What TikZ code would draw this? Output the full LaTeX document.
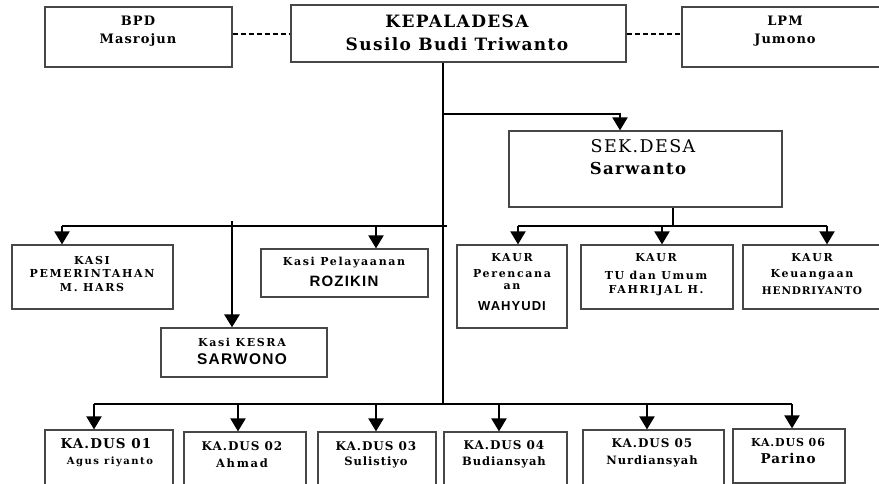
\documentclass[tikz,border=0pt]{standalone}
\usepackage{fontspec}
\setmainfont{DejaVu Serif}[LetterSpace=8]
\newfontfamily\wide{DejaVu Serif}[LetterSpace=15]
\newfontfamily\sansb{Liberation Sans}[LetterSpace=8]
\usetikzlibrary{arrows.meta}
\tikzset{
  bx/.style={draw=black!72,line width=1.2pt,inner sep=0pt,fill=white},
  txt/.style={inner sep=0pt,align=center,font=\bfseries},
  ln/.style={line width=2pt,black},
  arr/.style={ln,-{Triangle[width=15pt,length=13pt]}},
  dsh/.style={line width=2pt,dash pattern=on 5pt off 3pt},
}
\newcommand\bx[5]{\node[bx,minimum width={(#4-#2)*1pt},minimum height={(#5-#3)*1pt}] (#1) at ({(#2+#4)/2},{(#3+#5)/2}) {};}
\newcommand\tx[5][]{\node[txt,#1] (#2) at (#3,#4) {#5};}
\newcommand\fs[1]{\fontsize{#1}{#1}\selectfont}
\begin{document}
\begin{tikzpicture}[x=1pt,y=-1pt]
\useasboundingbox (0,0) rectangle (879,484);
\fill[white] (0,0) rectangle (879,484);
\clip (0,0) rectangle (879,484);
% top row
\bx{bpd}{45}{7}{232}{67}
\bx{kep}{291}{5}{626}{62}
\bx{lpm}{682}{7}{885}{67}
\tx[font=\bfseries\fs{13}]{tbpd1}{138}{21}{BPD}
\tx[font=\bfseries\fs{13}]{tbpd2}{138}{40}{Masrojun}
\tx[font=\bfseries\fs{17}]{tkep1}{457}{21}{KEPALADESA}
\tx[font=\bfseries\fs{17}]{tkep2}{457}{44}{Susilo Budi Triwanto}
\tx[font=\bfseries\fs{13}]{tlpm1}{785}{21}{LPM}
\tx[font=\bfseries\fs{13}]{tlpm2}{785}{40}{Jumono}
\draw[dsh] (bpd.east |- 0,34) -- (kep.west |- 0,34);
\draw[dsh] (kep.east |- 0,34) -- (lpm.west |- 0,34);
% sekdes
\bx{sek}{509}{131}{782}{207}
\tx[font=\fs{17.5}]{tsek1}{643}{146}{SEK.DESA}
\tx[font=\bfseries\fs{16.5}]{tsek2}{638}{168}{Sarwanto}
% kaur
\bx{kaur1}{457}{245}{567}{328}
\bx{kaur2}{581}{245}{733}{309}
\bx{kaur3}{743}{245}{885}{309}
\tx[font=\wide\bfseries\fs{11}]{tk11}{512}{258}{KAUR}
\tx[font=\wide\bfseries\fs{11}]{tk12}{512}{274}{Perencana}
\tx[font=\wide\bfseries\fs{11}]{tk13}{512}{287}{an}
\tx[font=\sansb\bfseries\fs{13}]{tk14}{512}{306}{WAHYUDI}
\tx[font=\wide\bfseries\fs{11}]{tk21}{656}{258}{KAUR}
\tx[font=\wide\bfseries\fs{11}]{tk22}{656}{275}{TU dan Umum}
\tx[font=\wide\bfseries\fs{11}]{tk23}{656}{291}{FAHRIJAL H.}
\tx[font=\wide\bfseries\fs{11}]{tk31}{812}{258}{KAUR}
\tx[font=\wide\bfseries\fs{11}]{tk32}{812}{275}{Keuangaan}
\tx[font=\bfseries\fs{10.5}]{tk33}{812}{291}{HENDRIYANTO}
% kasi
\bx{kpem}{12}{245}{173}{309}
\bx{kpel}{261}{249}{428}{297}
\bx{kesra}{161}{328}{327}{377}
\tx[font=\wide\bfseries\fs{11}]{tp1}{92}{260}{KASI}
\tx[font=\wide\bfseries\fs{11}]{tp2}{92}{273}{PEMERINTAHAN}
\tx[font=\wide\bfseries\fs{11}]{tp3}{92}{287}{M. HARS}
\tx[font=\wide\bfseries\fs{11}]{tl1}{344}{263}{Kasi Pelayaanan}
\tx[font=\sansb\bfseries\fs{15}]{tl2}{344}{281}{ROZIKIN}
\tx[font=\wide\bfseries\fs{11}]{te1}{242}{342}{Kasi KESRA}
\tx[font=\sansb\bfseries\fs{15.5}]{te2}{242}{359}{SARWONO}
% kadus
\bx{d1}{45}{430}{173}{495}
\bx{d2}{184}{432}{306}{495}
\bx{d3}{318}{432}{436}{495}
\bx{d4}{444}{432}{567}{495}
\bx{d5}{583}{430}{724}{495}
\bx{d6}{733}{429}{845}{483}
\tx[font=\bfseries\fs{13.5}]{td11}{106}{444}{KA.DUS 01}
\tx[font=\wide\bfseries\fs{10}]{td12}{110}{462}{Agus riyanto}
\tx[font=\bfseries\fs{12}]{td21}{242}{446}{KA.DUS 02}
\tx[font=\wide\bfseries\fs{11.5}]{td22}{242}{463}{Ahmad}
\tx[font=\bfseries\fs{12}]{td31}{376}{446}{KA.DUS 03}
\tx[font=\bfseries\fs{11.5}]{td32}{376}{462}{Sulistiyo}
\tx[font=\bfseries\fs{12}]{td41}{504}{445}{KA.DUS 04}
\tx[font=\bfseries\fs{11.5}]{td42}{504}{462}{Budiansyah}
\tx[font=\bfseries\fs{12}]{td51}{652}{443}{KA.DUS 05}
\tx[font=\bfseries\fs{11.5}]{td52}{652}{461}{Nurdiansyah}
\tx[font=\bfseries\fs{11}]{td61}{788}{442}{KA.DUS 06}
\tx[font=\bfseries\fs{13.5}]{td62}{788}{458}{Parino}
% connectors
\coordinate (t0) at (443,0 |- kep.south);
\coordinate (j1) at (443,114);
\coordinate (j2) at (443,226);
\coordinate (j3) at (443,404);
\draw[ln] (t0) -- (j3);
\draw[arr] (j1) -| (620,0 |- sek.north);
\coordinate (s0) at (673,0 |- sek.south);
\coordinate (s1) at (673,226);
\draw[ln] (s0) -- (s1);
\draw[ln] (518,226) -- (827,226);
\draw[arr] (518,226) -- (518,0 |- kaur1.north);
\draw[arr] (662,226) -- (662,0 |- kaur2.north);
\draw[arr] (827,226) -- (827,0 |- kaur3.north);
\draw[ln] (447,226) -- (62,226);
\draw[arr] (62,226) -- (62,0 |- kpem.north);
\draw[arr] (376,226) -- (376,0 |- kpel.north);
\draw[arr,line width=2.8pt] (232,221) -- (232,0 |- kesra.north);
\draw[ln] (94,404) -- (792,404);
\draw[arr] (94,404) -- (94,0 |- d1.north);
\draw[arr] (238,404) -- (238,0 |- d2.north);
\draw[arr] (376,404) -- (376,0 |- d3.north);
\draw[arr] (499,404) -- (499,0 |- d4.north);
\draw[arr] (647,404) -- (647,0 |- d5.north);
\draw[arr] (792,404) -- (792,0 |- d6.north);
\end{tikzpicture}
\end{document}
